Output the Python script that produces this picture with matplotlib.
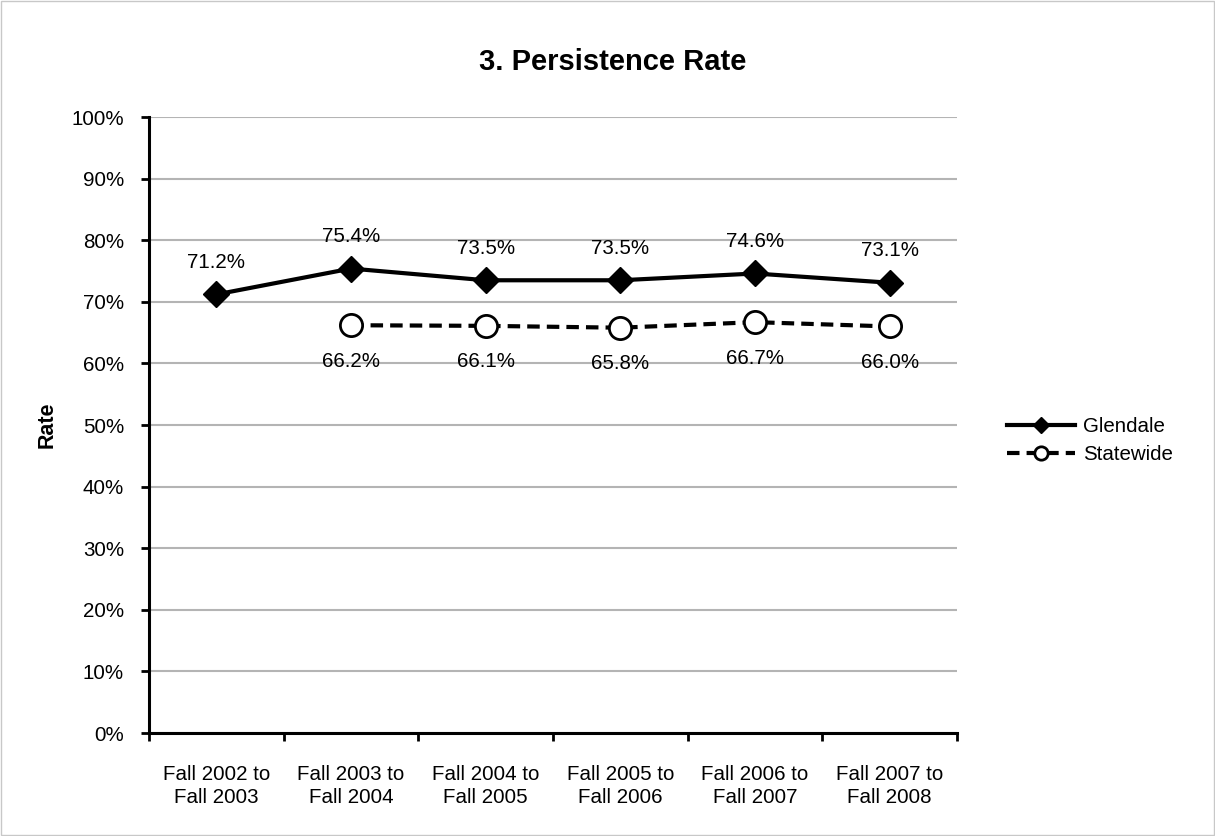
import numpy as np
import matplotlib.pyplot as plt
from matplotlib.ticker import FixedLocator, PercentFormatter

plt.rcParams['font.family'] = ['Liberation Sans', 'DejaVu Sans']

categories = ['Fall 2002 to\nFall 2003', 'Fall 2003 to\nFall 2004', 'Fall 2004 to\nFall 2005',
              'Fall 2005 to\nFall 2006', 'Fall 2006 to\nFall 2007', 'Fall 2007 to\nFall 2008']
glendale = [71.2, 75.4, 73.5, 73.5, 74.6, 73.1]
statewide = [np.nan, 66.2, 66.1, 65.8, 66.7, 66.0]

x = np.arange(len(categories))
fs = 14.8

fig = plt.figure(figsize=(12.15, 8.36), dpi=100)
ax = fig.add_axes([0.1226, 0.1232, 0.6651, 0.7368])

# outer frame of the chart area
fig.patches.append(plt.Rectangle((0.001, 0.001), 0.998, 0.998, transform=fig.transFigure,
                                 fill=False, edgecolor='#c8c8c8', linewidth=1))

ax.plot(x, glendale, color='black', lw=3, marker='D', markersize=13,
        markerfacecolor='black', label='Glendale', zorder=3)
ax.plot(x, statewide, color='black', lw=3, ls=(0, (3, 1.7)), marker='o', markersize=16,
        markerfacecolor='white', markeredgewidth=2, label='Statewide', zorder=3)

for i, v in enumerate(glendale):
    ax.annotate(f'{v:.1f}%', (x[i], v), xytext=(0, 23), textcoords='offset points',
                ha='center', va='center', fontsize=fs)
for i, v in enumerate(statewide):
    if not np.isnan(v):
        ax.annotate(f'{v:.1f}%', (x[i], v), xytext=(0, -26), textcoords='offset points',
                    ha='center', va='center', fontsize=fs)

ax.set_xlim(-0.5, len(categories) - 0.5)
ax.set_ylim(0, 100)
ax.set_yticks(np.arange(0, 101, 10))
ax.yaxis.set_major_formatter(PercentFormatter(decimals=0))
ax.set_xticks(x)
ax.set_xticklabels(categories, fontsize=fs, linespacing=1.25)
ax.tick_params(axis='x', length=0, pad=23)
ax.xaxis.set_minor_locator(FixedLocator(np.arange(-0.5, len(categories), 1)))
ax.tick_params(axis='x', which='minor', length=6, width=2, direction='out')
ax.tick_params(axis='y', length=6, width=2, labelsize=fs, pad=12)

ax.grid(axis='y', color='#b4b4b4', lw=1.5)
ax.set_axisbelow(True)
for s in ['top', 'right']:
    ax.spines[s].set_visible(False)
for s in ['left', 'bottom']:
    ax.spines[s].set_linewidth(2.2)

ax.set_ylabel('Rate', fontsize=15.5, fontweight='bold')
ax.yaxis.set_label_coords(-0.113, 0.5)
fig.text(0.504, 0.926, '3. Persistence Rate', ha='center', va='center',
         fontsize=21, fontweight='bold')

fig.legend(loc='center left', bbox_to_anchor=(0.829, 0.473), frameon=False, fontsize=fs,
           handlelength=3.3, handletextpad=0.4, labelspacing=0.45, markerscale=0.6,
           borderpad=0, borderaxespad=0)

fig.savefig('out.png', dpi=100)
